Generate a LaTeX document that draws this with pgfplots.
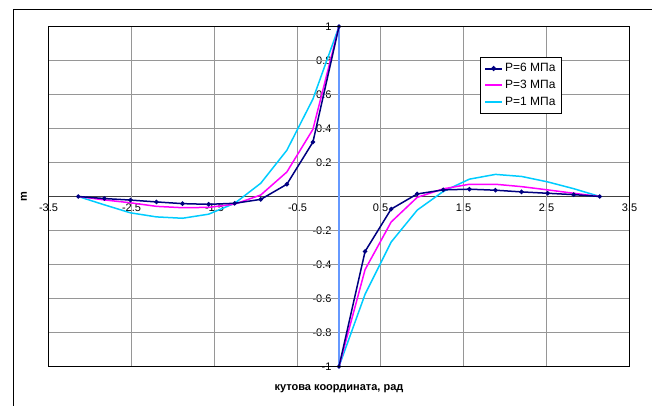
\documentclass[border=0pt]{standalone}
\usepackage{pgfplots}
\pgfplotsset{compat=1.18}
\usepackage{fontspec}
\setmainfont{Liberation Sans}
\definecolor{navyc}{RGB}{0,0,128}
\definecolor{magc}{RGB}{255,0,255}
\definecolor{cyanc}{RGB}{0,204,255}
\definecolor{vblue}{RGB}{102,153,255}
\definecolor{gridc}{RGB}{150,150,150}
\begin{document}
\begin{tikzpicture}
\useasboundingbox (0,0) rectangle (652pt,406pt);
\draw[line width=1pt] (13.5pt,0) -- (13.5pt,396.5pt) -- (652pt,396.5pt);
\begin{axis}[
  at={(48.5pt,39.5pt)}, anchor=south west,
  scale only axis, width=581pt, height=340pt,
  xmin=-3.5, xmax=3.5, ymin=-1, ymax=1,
  axis lines=middle, axis line style={-, draw=black!75, line width=1pt},
  xtick={-3.5,-2.5,-1.5,-0.5,0.5,1.5,2.5,3.5},
  xticklabels={-3.5,-2.5,-1.5,-0.5,0.5,1.5,2.5,3.5},
  ytick={-1,-0.8,-0.6,-0.4,-0.2,0,0.2,0.4,0.6,0.8,1},
  yticklabels={-1,-0.8,-0.6,-0.4,-0.2,0,0.2,0.4,0.6,0.8,1},
  tick label style={font=\fontsize{11}{13}\selectfont},
  xticklabel style={yshift=-1pt},
  yticklabel style={xshift=-1pt},
  major tick length=6pt,
  every tick/.style={black!75, line width=1pt},
  xlabel={\textbf{кутова координата, рад}},
  ylabel={\textbf{m}},
  label style={font=\fontsize{11}{13}\selectfont},
  xlabel style={at={(axis description cs:0.5,0)}, anchor=north, yshift=-15pt},
  ylabel style={at={(axis description cs:0,0.5)}, anchor=south, rotate=90, yshift=18pt},
  legend style={at={(0.742,0.91)}, anchor=north west, draw=black, line width=1pt,
    font=\fontsize{12}{14}\selectfont, inner xsep=4pt, inner ysep=4pt, row sep=3pt,
    legend cell align=left},
  after end axis/.code={\draw[black, line width=1pt] (rel axis cs:0,0) rectangle (rel axis cs:1,1);},
]
\pgfplotsinvokeforeach{-2.5,-1.5,-0.5,0.5,1.5,2.5}{\draw[gridc, line width=1pt] (axis cs:#1,-1) -- (axis cs:#1,1);}
\pgfplotsinvokeforeach{-0.8,-0.6,-0.4,-0.2,0.2,0.4,0.6,0.8}{\draw[gridc, line width=1pt] (axis cs:-3.5,#1) -- (axis cs:3.5,#1);}
\addplot[vblue, line width=2.5pt, forget plot] coordinates {(0,1) (0,-1)};
% cyan
\addplot[cyanc, line width=1.5pt, forget plot] coordinates {
(-3.1416,0) (-2.8274,-0.049) (-2.5133,-0.096) (-2.1991,-0.120) (-1.8850,-0.128) (-1.5708,-0.104) (-1.2566,-0.040) (-0.9425,0.078) (-0.6283,0.272) (-0.3142,0.573) (0,1)};
\addplot[cyanc, line width=1.5pt, forget plot] coordinates {
(0,-1) (0.3142,-0.575) (0.6283,-0.268) (0.9425,-0.080) (1.2566,0.030) (1.5708,0.102) (1.8850,0.130) (2.1991,0.118) (2.5133,0.086) (2.8274,0.046) (3.1416,0)};
% magenta
\addplot[magc, line width=1.5pt, forget plot] coordinates {
(-3.1416,0) (-2.8274,-0.020) (-2.5133,-0.037) (-2.1991,-0.058) (-1.8850,-0.066) (-1.5708,-0.064) (-1.2566,-0.045) (-0.9425,0.009) (-0.6283,0.144) (-0.3142,0.395) (0,1)};
\addplot[magc, line width=1.5pt, forget plot] coordinates {
(0,-1) (0.3142,-0.430) (0.6283,-0.150) (0.9425,-0.005) (1.2566,0.045) (1.5708,0.072) (1.8850,0.072) (2.1991,0.058) (2.5133,0.039) (2.8274,0.019) (3.1416,0)};
% navy
\addplot[navyc, line width=1.5pt, mark=*, mark size=1.4pt, forget plot] coordinates {
(-3.1416,0) (-2.8274,-0.012) (-2.5133,-0.021) (-2.1991,-0.032) (-1.8850,-0.042) (-1.5708,-0.046) (-1.2566,-0.040) (-0.9425,-0.017) (-0.6283,0.072) (-0.3142,0.320) (0,1)};
\addplot[navyc, line width=1.5pt, mark=*, mark size=1.4pt, forget plot] coordinates {
(0,-1) (0.3142,-0.323) (0.6283,-0.074) (0.9425,0.015) (1.2566,0.039) (1.5708,0.043) (1.8850,0.037) (2.1991,0.027) (2.5133,0.019) (2.8274,0.011) (3.1416,0)};
\addlegendimage{navyc, line width=2pt, mark=*, mark size=1.4pt}
\addlegendentry{P=6 МПа}
\addlegendimage{magc, line width=2pt}
\addlegendentry{P=3 МПа}
\addlegendimage{cyanc, line width=2pt}
\addlegendentry{P=1 МПа}
\end{axis}
\end{tikzpicture}
\end{document}
